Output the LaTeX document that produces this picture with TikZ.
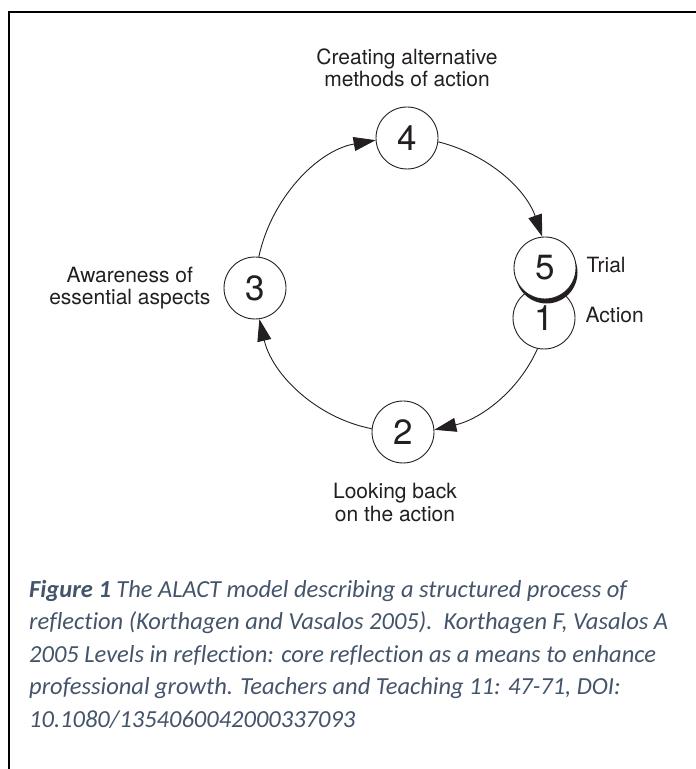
\documentclass[tikz,border=0pt]{standalone}
\usepackage{fontspec}
\setmainfont{TeX Gyre Heros}
\newfontfamily\capfont[Ligatures=NoCommon]{Carlito}
\usetikzlibrary{positioning,arrows.meta,shadows}
\definecolor{ink}{HTML}{231F20}
\definecolor{capblue}{HTML}{44546A}

\begin{document}
\begin{tikzpicture}[x=1pt, y=1pt,
    stage/.style={circle, draw=ink, line width=0.9pt, fill=white, minimum size=62pt,
                  inner sep=0pt, text=ink, font=\fontsize{35}{35}\selectfont},
    lbl/.style={align=center, inner sep=0pt, text=ink, font=\fontsize{21}{22.5}\selectfont},
    flow/.style={draw=ink, line width=0.9pt, looseness=0.92,
                 -{Triangle[length=22pt,width=14pt]}}]
  \useasboundingbox (0,0) rectangle (696,769);
  \draw[line width=1.6pt] (9,0) -- (9,757) -- (696,757);

  % the five stages
  \node[stage] (action) at (544,451) {1};
  \node[stage, general shadow={fill=ink, shadow xshift=1.5pt, shadow yshift=-4.5pt}]
        (trial) at (545,501) {5};
  \node[stage] (lookback) at (403,337) {2};
  \node[stage] (aware) at (255,481) {3};
  \node[stage] (create) at (407,631) {4};

  \node[lbl, above=19.5pt of create] (createtxt) {Creating alternative\\methods of action};
  \node[lbl, below=20pt of lookback, xshift=-8pt] (looktxt) {Looking back\\on the action};
  \node[lbl, left=13pt of aware] (awaretxt) {Awareness of\\essential aspects};
  \node[lbl, right=10pt of trial, yshift=2.5pt] (trialtxt) {Trial};
  \node[lbl, right=10pt of action, yshift=2.5pt] (actiontxt) {Action};

  \draw[flow] (action.-102) to[out=-114, in=13] (lookback.4);
  \draw[flow] (lookback.174) to[out=169, in=-77] (aware.-82);
  \draw[flow] (aware.83) to[out=78, in=190] (create.184);
  \draw[flow] (create.-7) to[out=-14, in=109] (trial.95);

  \node[anchor=north west, inner sep=0pt, align=left, text=capblue,
        font=\capfont\itshape\fontsize{24.5}{32.5}\selectfont] (caption) at (29,189)
       {\textbf{Figure 1} The ALACT model describing a structured process of\\
        reflection (Korthagen and Vasalos 2005).\ \ Korthagen F, Vasalos A\\
        2005 Levels in reflection: core reflection as a means to enhance\\
        professional growth. Teachers and Teaching 11: 47-71, DOI:\\
        10.1080/1354060042000337093};
\end{tikzpicture}
\end{document}
